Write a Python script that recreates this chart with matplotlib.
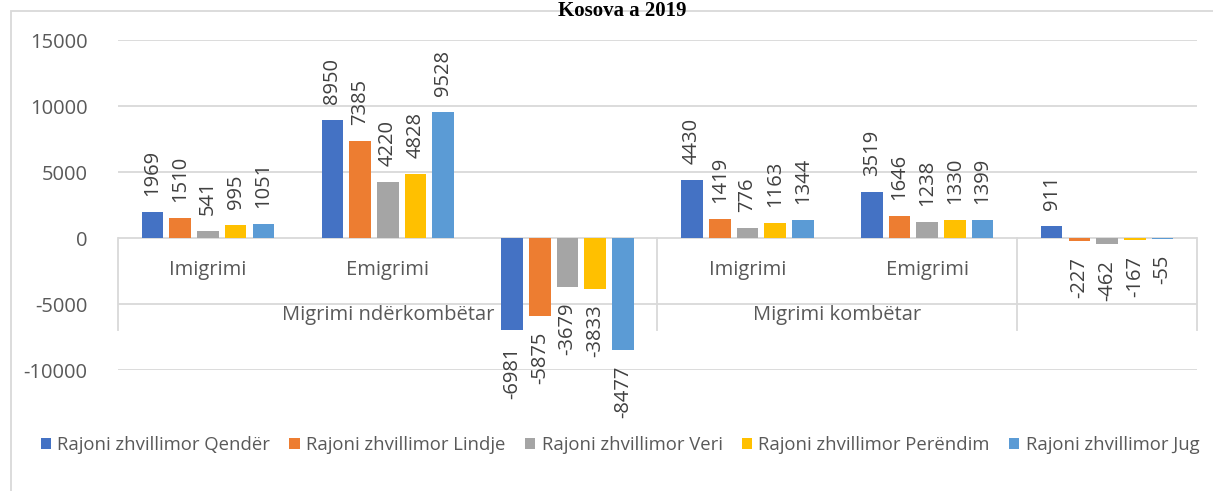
import matplotlib
matplotlib.use("Agg")
import matplotlib.pyplot as plt
from matplotlib.patches import Rectangle, Patch
import numpy as np

categories = ["Imigrimi", "Emigrimi", "", "Imigrimi", "Emigrimi", ""]
groups = ["Migrimi ndërkombëtar", "Migrimi kombëtar", ""]
group_spans = [3, 2, 1]
series_names = ["Rajoni zhvillimor Qendër", "Rajoni zhvillimor Lindje",
                "Rajoni zhvillimor Veri", "Rajoni zhvillimor Perëndim",
                "Rajoni zhvillimor Jug"]
qender = [1969, 8950, -6981, 4430, 3519, 911]
lindje = [1510, 7385, -5875, 1419, 1646, -227]
veri = [541, 4220, -3679, 776, 1238, -462]
perendim = [995, 4828, -3833, 1163, 1330, -167]
jug = [1051, 9528, -8477, 1344, 1399, -55]
series = [qender, lindje, veri, perendim, jug]
colors = ["#4472C4", "#ED7D31", "#A5A5A5", "#FFC000", "#5B9BD5"]
yticks = [-10000, -5000, 0, 5000, 10000, 15000]
title = "Kosova a 2019"

plt.rcParams['font.family'] = ['Open Sans', 'DejaVu Sans']

W, H = 1213, 491
fig = plt.figure(figsize=(W / 100, H / 100), dpi=100)
L, R, T, B = 118, 1197, 40, 370
ax = fig.add_axes([L / W, 1 - B / H, (R - L) / W, (B - T) / H])

ymin, ymax = -10000, 15000
ax.set_ylim(ymin, ymax)
n = len(categories)
ax.set_xlim(-0.5, n - 0.5)
x = np.arange(n)
step = 0.154
bw = 0.12
txtc = "#404040"
gridc = "#D9D9D9"

for i, (vals, c) in enumerate(zip(series, colors)):
    xs = x + (i - 2) * step
    ax.bar(xs, vals, width=bw, color=c, zorder=3)
    for xv, v in zip(xs, vals):
        off = 16 if v >= 0 else -16
        ax.annotate(str(v), xy=(xv, v), xytext=(0, off), textcoords="offset pixels",
                    rotation=90, ha="center", va="bottom" if v >= 0 else "top",
                    fontsize=14.5, color=txtc, annotation_clip=False, zorder=5)

for s in ax.spines.values():
    s.set_visible(False)
ax.set_yticks(yticks)
ax.set_yticklabels([str(t) for t in yticks])
ax.tick_params(axis="y", length=0, pad=22, labelsize=14.5, labelcolor="#595959")
ax.set_xticks([])
for t in yticks:
    ax.axhline(t, color=gridc, lw=1.3, zorder=1)

# multi-level category axis at y=0
px = (ymax - ymin) / (B - T)
for xi, lab in zip(x, categories):
    if lab:
        ax.text(xi, -32 * px, lab, ha="center", va="center", fontsize=14.5,
                color="#595959")
start = 0
for g, span in zip(groups, group_spans):
    if g:
        ax.text(start - 0.5 + span / 2, -77 * px, g, ha="center", va="center",
                fontsize=14.5, color="#595959")
    start += span
bounds = [-0.5]
for span in group_spans:
    bounds.append(bounds[-1] + span)
for b in bounds:
    ax.plot([b, b], [0, -92 * px], color=gridc, lw=1.3, clip_on=False, zorder=2)

# legend
handles = [Patch(facecolor=c, edgecolor="none") for c in colors]
fig.legend(handles, series_names, loc="center", bbox_to_anchor=(620 / W, 1 - 445 / H),
           ncol=5, frameon=False, fontsize=13.3, handlelength=0.55, handleheight=0.55,
           handletextpad=0.35, columnspacing=1.05, labelcolor="#595959")

# outer border
fig.patches.append(Rectangle((11 / W, -0.1), 1.2, 1 - 11 / H + 0.1,
                             transform=fig.transFigure, fill=False,
                             edgecolor=gridc, lw=1.3))

fig.text(622 / W, 1 - 1 / H, title, ha="center", va="top",
         fontsize=15, fontweight="bold", family=["Liberation Serif"], color="black")

fig.savefig("out.png", dpi=100)
